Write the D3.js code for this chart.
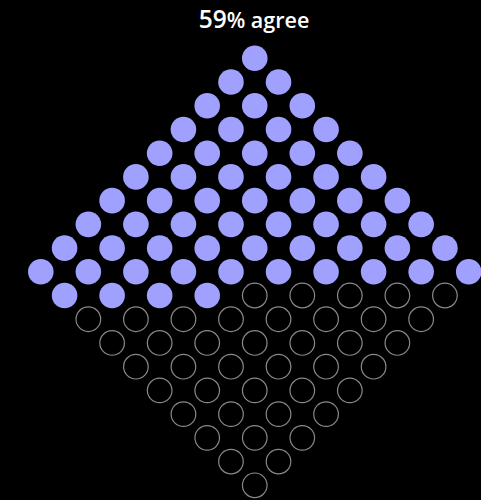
<!DOCTYPE html>
<html>
<head>
<meta charset="utf-8">
<script src="https://cdn.jsdelivr.net/npm/d3@7"></script>
<style>
  html, body { margin: 0; padding: 0; background: #000; }
  svg { display: block; }
</style>
</head>
<body>
<div id="chart"></div>
<script>
// data
var categories = ["agree", "not agree"];
var values = [59, 41];
var gridSize = 10;   // 10 x 10 = 100 dots

var svgWidth = 481;
var svgHeight = 500;
var radius = 12.8;

var svg = d3.select("#chart")
    .append("svg")
        .attr("width", svgWidth)
        .attr("height", svgHeight)
        .style("background", "#000");

// build the dots: grid rotated 45 degrees, filled from the top
var dots = [];
var n = 0;
for(var r = 0; r < gridSize * 2 - 1; r++) {
    for(var i = gridSize - 1; i >= 0; i--) {
        var j = r - i;
        if(j < 0 || j >= gridSize) continue;
        dots.push({ i: i, j: j, row: r, filled: n < values[0] });
        n++;
    }
}

var x = d3.scaleLinear()
    .domain([-(gridSize - 1), gridSize - 1])
    .range([40.8, 468.7]);
var y = d3.scaleLinear()
    .domain([0, gridSize * 2 - 2])
    .range([58.3, 485.3]);

svg.selectAll("circle.dot")
    .data(dots)
    .enter().append("circle")
    .attr("class", "dot")
    .attr("cx", function(d) { return x(d.j - d.i); })
    .attr("cy", function(d) { return y(d.row); })
    .attr("r", function(d) { return d.filled ? radius : radius - 0.5; })
    .attr("fill", function(d) { return d.filled ? "#a0a0ff" : "none"; })
    .attr("stroke", function(d) { return d.filled ? "none" : "#8a8a8a"; })
    .attr("stroke-width", 1.2);

var title = svg.append("text")
    .attr("x", 254)
    .attr("y", 28)
    .attr("text-anchor", "middle")
    .attr("fill", "#fff")
    .style("font-family", "'Open Sans', 'Noto Sans', sans-serif")
    .style("font-size", "21.5px")
    .style("font-weight", 600);
title.append("tspan")
    .style("font-size", "24.5px")
    .text(values[0]);
title.append("tspan")
    .text("% " + categories[0]);
</script>
</body>
</html>
